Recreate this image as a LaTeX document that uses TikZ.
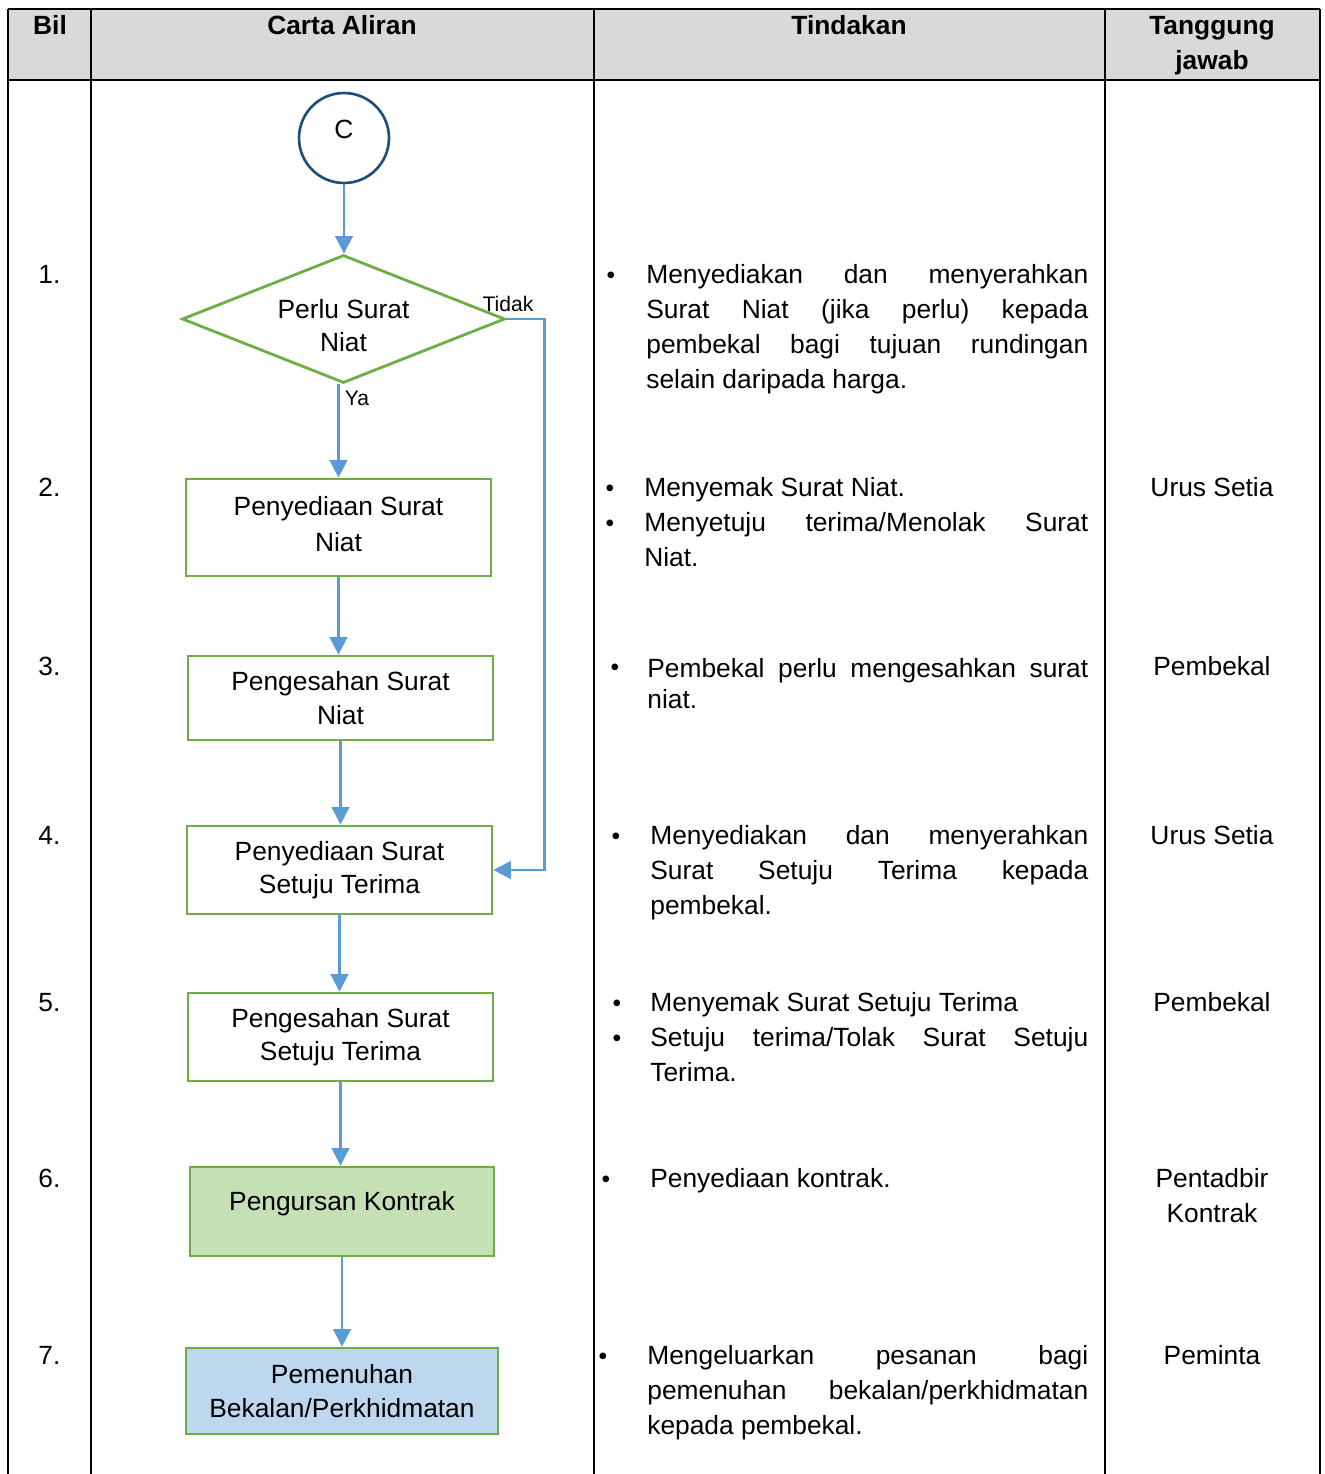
\documentclass[tikz,border=0pt]{standalone}
\usepackage{fontspec}
\setmainfont{Liberation Sans}
\usepackage{tikz}
\usetikzlibrary{arrows.meta,shapes.geometric}

\definecolor{flowgreen}{HTML}{70AD47}
\definecolor{flowblue}{HTML}{5B9BD5}
\definecolor{navyline}{HTML}{1F4E79}
\definecolor{headgray}{HTML}{D9D9D9}
\definecolor{kontrakfill}{HTML}{C5E0B4}
\definecolor{bekalfill}{HTML}{BDD7EE}

\newcommand{\bodyfont}{\fontsize{15}{19.9}\selectfont\tolerance=10000\relax\hyphenpenalty=10000\relax}
\newcommand{\tightfont}{\fontsize{15}{17.6}\selectfont\tolerance=10000\relax\hyphenpenalty=10000\relax}

\begin{document}
\begin{tikzpicture}[x=0.02cm,y=-0.02cm,
  grid/.style={line width=1.4pt,black},
  flow/.style={draw=flowblue,line width=1.5pt,-{Triangle[length=10pt,width=10pt]}},
  procbox/.style={draw=flowgreen,line width=1.6pt,minimum width=6.1cm,align=center,inner sep=0pt,font=\fontsize{15}{19}\selectfont},
  txt/.style={inner sep=0pt,font=\bodyfont,text height=10.8pt,text depth=0pt},
  head/.style={inner sep=0pt,font=\bfseries\fontsize{15}{19.9}\selectfont,align=center},
  lbl/.style={inner sep=0pt,font=\fontsize{12}{14}\selectfont,text height=8.6pt,text depth=0pt},
  para/.style={anchor=north west,inner sep=0pt,text width=8.84cm,align=justify,font=\bodyfont},
  dot/.style={inner sep=0pt,anchor=base,font=\fontsize{14}{14}\selectfont}]
\useasboundingbox (0,0) rectangle (1325,1474);
%\draw (0,0) grid (1325,1474);

% table
\fill [headgray] (8,9) rectangle (1320,80);
\draw [grid] (8,9) -- (1320,9); \draw [grid] (8,80) -- (1320,80);
\draw [grid] (8,9) -- (8,1474); \draw [grid] (91,9) -- (91,1474); \draw [grid] (594,9) -- (594,1474); \draw [grid] (1105,9) -- (1105,1474); \draw [grid] (1320,9) -- (1320,1474);

\node [head] (hbil) at (50,25) {Bil};
\node [head] (hcarta) at (342,25) {Carta Aliran};
\node [head] (htindakan) at (849,25) {Tindakan};
\node [head] (htanggung) at (1212,46) {Tanggung\\jawab};

% numbers
\node [txt,anchor=west] (n1) at (38,274) {1.};
\node [txt,anchor=west] (n2) at (38,487) {2.};
\node [txt,anchor=west] (n3) at (38,666) {3.};
\node [txt,anchor=west] (n4) at (38,835) {4.};
\node [txt,anchor=west] (n5) at (38,1002) {5.};
\node [txt,anchor=west] (n6) at (38,1178) {6.};
\node [txt,anchor=west] (n7) at (38,1355) {7.};

% flow chart
\node [circle,draw=navyline,line width=1.5pt,minimum size=1.8cm,inner sep=0pt,font=\fontsize{15}{19}\selectfont,text height=10.8pt,text depth=10.8pt] (circ) at (344,138) {C};
\node [diamond,draw=flowgreen,line width=1.6pt,aspect=2.52,minimum width=6.46cm,minimum height=2.56cm,inner sep=0pt,align=center,font=\fontsize{15}{19}\selectfont] (dia) at (343.5,319) {\rule{0pt}{18.3pt}Perlu Surat\\Niat};
\node [procbox,minimum height=1.94cm,font=\fontsize{15}{20.4}\selectfont] (box2) at (338.5,527.5) {Penyediaan Surat\\Niat\rule[-4pt]{0pt}{4pt}};
\node [procbox,minimum height=1.68cm] (box3) at (340.5,698) {Pengesahan Surat\\Niat};
\node [procbox,minimum height=1.76cm] (box4) at (339.5,870) {Penyediaan Surat\\Setuju Terima};
\node [procbox,minimum height=1.76cm] (box5) at (340.5,1037) {Pengesahan Surat\\Setuju Terima};
\node [procbox,fill=kontrakfill,minimum width=6.08cm,minimum height=1.78cm,text height=10.8pt,text depth=11.9pt] (box6) at (342,1211.5) {Pengursan Kontrak};
\node [procbox,fill=bekalfill,minimum width=6.24cm,minimum height=1.72cm] (box7) at (342,1391) {Pemenuhan\\Bekalan/Perkhidmatan};

\draw [flow] (circ.south) -- (circ.south |- dia.north);
\draw [flow] (box2.north |- dia.south) -- (box2.north);
\draw [flow] (box2.south) -- (box2.south |- box3.north);
\draw [flow] (box3.south) -- (box3.south |- box4.north);
\draw [flow] (box4.south) -- (box4.south |- box5.north);
\draw [flow] (box5.south) -- (box5.south |- box6.north);
\draw [flow] (box6.south) -- (box6.south |- box7.north);
\draw [flow] (dia.east) -- ++(38,0) |- (box4.east);

\node [lbl] (tidak) at (508,304) {Tidak};
\node [lbl] (ya) at (357,398) {Ya};

% tindakan
\node [dot] (b1) at (611,283) {•};
\node [para] (act1) at (646,264) {Menyediakan dan menyerahkan\linebreak Surat Niat (jika perlu) kepada\linebreak pembekal bagi tujuan rundingan\linebreak selain daripada harga.};
\node [dot] (b2a) at (610,496) {•};
\node [para,text width=8.88cm] (act2a) at (644,477) {Menyemak Surat Niat.};
\node [dot] (b2b) at (610,531) {•};
\node [para,text width=8.88cm] (act2b) at (644,512) {Menyetuju terima/Menolak Surat\linebreak Niat.};
\node [dot] (b3) at (615,675) {•};
\node [para,text width=8.82cm,font=\tightfont] (act3) at (647,658) {Pembekal perlu mengesahkan surat\linebreak niat.};
\node [dot] (b4) at (616,844) {•};
\node [para,text width=8.76cm] (act4) at (650,825) {Menyediakan dan menyerahkan\linebreak Surat Setuju Terima kepada\linebreak pembekal.};
\node [dot] (b5a) at (617,1011) {•};
\node [para,text width=8.76cm] (act5a) at (650,992) {Menyemak Surat Setuju Terima};
\node [dot] (b5b) at (617,1046) {•};
\node [para,text width=8.76cm] (act5b) at (650,1027) {Setuju terima/Tolak Surat Setuju\linebreak Terima.};
\node [dot] (b6) at (606,1187) {•};
\node [para,text width=8.76cm] (act6) at (650,1168) {Penyediaan kontrak.};
\node [dot] (b7) at (603,1364) {•};
\node [para,text width=8.82cm] (act7) at (647,1345) {Mengeluarkan pesanan bagi\linebreak pemenuhan bekalan/perkhidmatan\linebreak kepada pembekal.};

% tanggung jawab
\node [txt] (r2) at (1212,487) {Urus Setia};
\node [txt] (r3) at (1212,666) {Pembekal};
\node [txt] (r4) at (1212,835) {Urus Setia};
\node [txt] (r5) at (1212,1002) {Pembekal};
\node [inner sep=0pt,font=\bodyfont,align=center] (r6) at (1212,1196) {Pentadbir\\Kontrak};
\node [txt] (r7) at (1212,1355) {Peminta};
\end{tikzpicture}
\end{document}
